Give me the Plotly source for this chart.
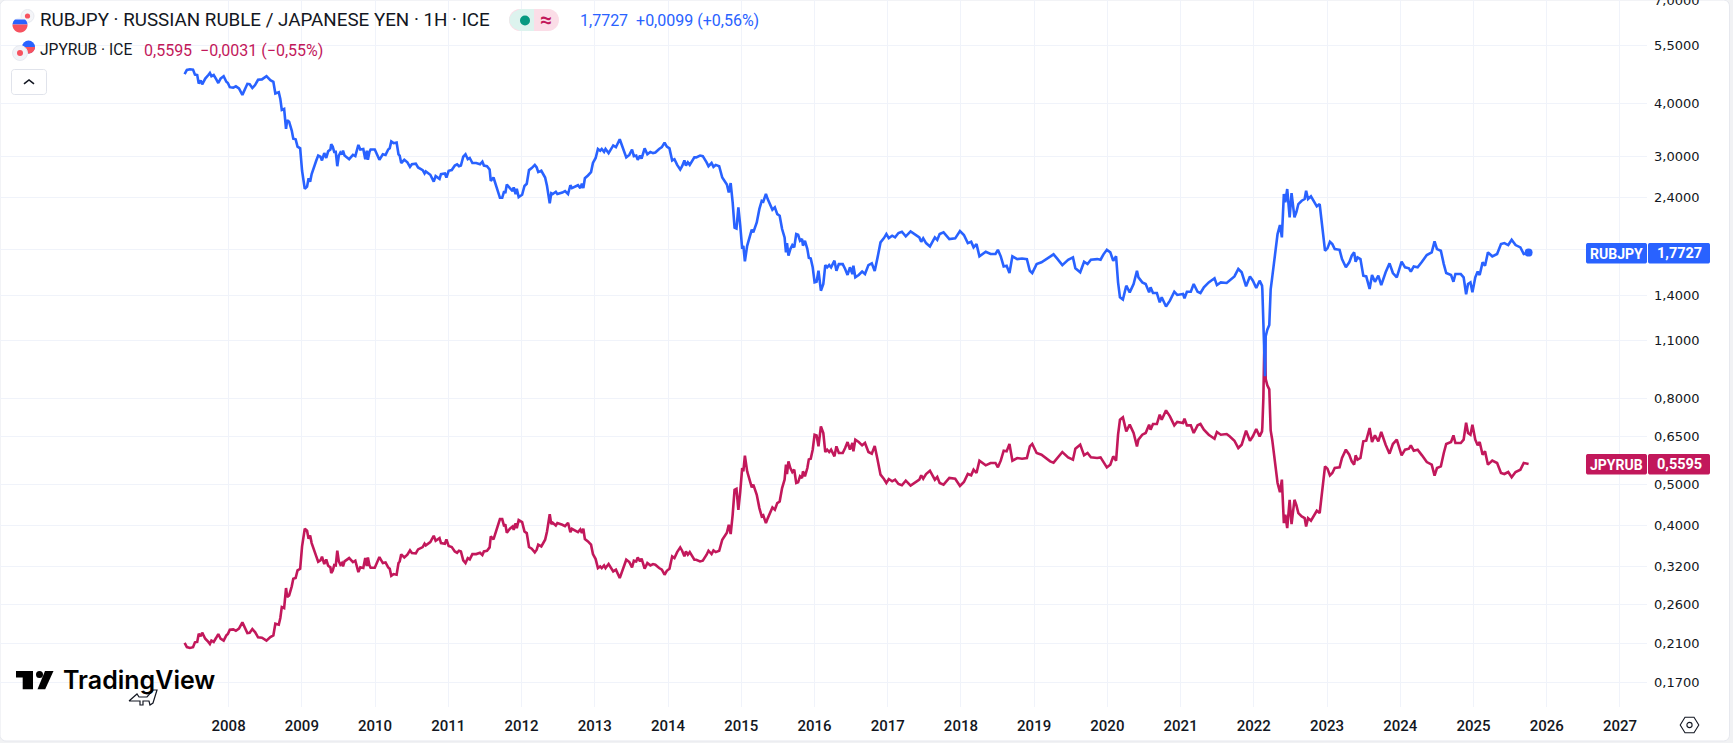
import math
import plotly.graph_objects as go

years = [
2007.399,2007.430,2007.472,2007.514,2007.540,2007.571,2007.592,2007.618,2007.639,2007.681,
2007.723,2007.744,2007.765,2007.796,2007.828,2007.859,2007.890,2007.932,2007.969,2007.990,
2008.016,2008.063,2008.099,2008.141,2008.188,2008.225,2008.256,2008.287,2008.324,2008.361,
2008.402,2008.455,2008.517,2008.570,2008.611,2008.638,2008.685,2008.706,2008.726,2008.758,
2008.784,2008.800,2008.826,2008.862,2008.883,2008.915,2008.941,2008.977,2009.003,2009.040,
2009.071,2009.092,2009.113,2009.134,2009.165,2009.197,2009.223,2009.254,2009.275,2009.306,
2009.333,2009.359,2009.390,2009.401,2009.421,2009.442,2009.463,2009.484,2009.505,2009.526,
2009.547,2009.562,2009.583,2009.646,2009.698,2009.730,2009.772,2009.798,2009.839,2009.866,
2009.887,2009.902,2009.923,2009.939,2009.996,2010.059,2010.106,2010.143,2010.179,2010.200,
2010.221,2010.252,2010.294,2010.320,2010.336,2010.357,2010.399,2010.441,2010.477,2010.503,
2010.556,2010.587,2010.650,2010.676,2010.692,2010.754,2010.801,2010.827,2010.880,2010.900,
2010.953,2010.974,2011.005,2011.047,2011.089,2011.120,2011.146,2011.172,2011.204,2011.235,
2011.266,2011.293,2011.329,2011.381,2011.433,2011.465,2011.486,2011.528,2011.564,2011.580,
2011.617,2011.653,2011.705,2011.736,2011.763,2011.778,2011.799,2011.841,2011.878,2011.893,
2011.919,2011.935,2011.961,2012.008,2012.040,2012.071,2012.102,2012.139,2012.181,2012.207,
2012.228,2012.270,2012.322,2012.348,2012.385,2012.406,2012.426,2012.468,2012.489,2012.557,
2012.594,2012.635,2012.667,2012.688,2012.729,2012.771,2012.803,2012.824,2012.844,2012.865,
2012.907,2012.949,2012.975,2013.012,2013.043,2013.074,2013.095,2013.127,2013.147,2013.189,
2013.252,2013.289,2013.341,2013.388,2013.430,2013.472,2013.509,2013.534,2013.566,2013.587,
2013.618,2013.639,2013.681,2013.718,2013.759,2013.796,2013.827,2013.879,2013.916,2013.953,
2013.984,2014.020,2014.057,2014.088,2014.125,2014.167,2014.193,2014.224,2014.245,2014.271,
2014.297,2014.360,2014.386,2014.438,2014.475,2014.527,2014.553,2014.595,2014.621,2014.652,
2014.699,2014.741,2014.778,2014.804,2014.830,2014.856,2014.883,2014.909,2014.935,2014.961,
2014.987,2015.013,2015.029,2015.050,2015.081,2015.118,2015.144,2015.165,2015.212,2015.248,
2015.280,2015.301,2015.337,2015.363,
2015.393,2015.426,2015.459,2015.492,2015.525,2015.558,2015.592,2015.611,2015.625,2015.645,
2015.671,2015.698,2015.724,2015.751,2015.777,2015.803,2015.830,2015.843,2015.870,2015.903,
2015.923,2015.949,2015.976,2016.002,2016.029,2016.055,2016.088,2016.121,2016.148,2016.174,
2016.201,2016.227,2016.273,2016.300,2016.333,2016.386,2016.419,2016.452,2016.485,2016.518,
2016.532,2016.558,2016.604,2016.651,2016.690,2016.737,2016.783,2016.823,2016.862,2016.902,
2016.949,2016.982,2017.015,2017.061,2017.101,2017.147,2017.194,2017.247,2017.313,2017.379,
2017.432,2017.458,2017.485,2017.524,2017.577,2017.644,2017.677,2017.710,2017.763,2017.842,
2017.922,2017.987,2018.041,2018.094,2018.140,2018.173,2018.213,2018.253,2018.339,2018.405,
2018.472,2018.505,2018.544,2018.584,2018.624,2018.663,2018.703,2018.769,2018.835,2018.901,
2018.941,2018.974,2019.034,2019.100,2019.166,2019.219,2019.265,2019.312,2019.385,2019.464,
2019.530,2019.563,2019.629,2019.682,2019.729,2019.775,2019.861,2019.907,2019.947,2019.993,
2020.040,2020.080,2020.119,2020.146,2020.172,2020.212,2020.258,2020.305,2020.358,2020.404,
2020.424,2020.477,2020.523,2020.570,2020.590,2020.623,2020.676,2020.715,2020.742,2020.801,
2020.854,2020.914,2020.954,2021.033,2021.053,2021.086,2021.139,2021.179,2021.232,2021.271,
2021.318,2021.384,2021.463,2021.496,2021.549,2021.629,2021.669,2021.735,2021.788,2021.834,
2021.894,2021.947,2021.987,2022.033,2022.079,2022.112,
2022.116,2022.130,2022.143,2022.153,2022.162,2022.184,2022.211,2022.230,
2022.251,2022.277,2022.297,2022.324,2022.357,2022.383,2022.410,2022.430,2022.456,2022.489,
2022.515,2022.555,2022.582,2022.608,2022.654,2022.694,2022.714,2022.740,2022.780,2022.826,
2022.860,2022.899,2022.919,2022.939,2022.972,2023.005,2023.039,2023.072,2023.105,2023.171,
2023.204,2023.257,2023.303,2023.337,2023.370,2023.390,2023.416,2023.456,2023.495,2023.535,
2023.581,2023.614,2023.654,2023.700,2023.740,2023.800,2023.853,2023.899,2023.952,2024.018,
2024.065,2024.118,2024.144,2024.184,2024.237,2024.296,2024.362,2024.429,2024.468,2024.501,
2024.554,2024.594,2024.627,2024.693,2024.726,2024.753,2024.826,2024.865,2024.899,2024.925,
2024.958,2024.985,2025.024,2025.057,2025.084,2025.124,2025.157,2025.197,2025.256,2025.322,
2025.375,2025.421,2025.474,2025.521,2025.574,2025.640,2025.686,2025.752,
]

rubjpy = [
4.69,4.80,4.82,4.81,4.68,4.67,4.46,4.53,4.44,4.58,
4.67,4.72,4.64,4.67,4.57,4.47,4.58,4.64,4.50,4.47,
4.37,4.36,4.39,4.34,4.19,4.31,4.45,4.44,4.35,4.42,
4.55,4.56,4.64,4.54,4.50,4.22,4.25,4.10,3.86,3.88,
3.48,3.65,3.62,3.45,3.30,3.29,3.16,3.13,2.77,2.51,
2.54,2.66,2.61,2.72,2.84,2.93,3.01,2.99,2.93,3.05,
2.97,3.08,3.11,3.20,3.16,3.07,3.07,2.84,3.01,3.06,
3.03,3.09,3.01,2.95,3.02,3.00,3.19,3.11,3.12,2.95,
3.09,2.94,3.07,3.11,3.11,2.94,3.03,3.02,3.11,3.13,
3.25,3.22,3.23,3.03,3.01,2.89,2.94,2.90,2.83,2.87,
2.88,2.82,2.78,2.73,2.76,2.71,2.61,2.69,2.65,2.72,
2.73,2.67,2.77,2.78,2.85,2.87,2.84,2.85,2.99,3.03,
2.95,2.97,2.89,2.89,2.87,2.91,2.85,2.84,2.79,2.62,
2.67,2.55,2.39,2.39,2.48,2.45,2.57,2.52,2.48,2.53,
2.44,2.51,2.40,2.43,2.55,2.58,2.78,2.81,2.86,2.82,
2.75,2.77,2.67,2.55,2.32,2.45,2.44,2.47,2.44,2.46,
2.48,2.44,2.56,2.52,2.54,2.56,2.52,2.58,2.52,2.66,
2.70,2.75,2.89,2.97,3.12,3.09,3.12,3.07,3.12,3.05,
3.18,3.15,3.29,3.12,2.98,3.02,3.11,3.00,3.01,2.94,
3.01,2.96,3.13,3.03,3.07,3.05,3.06,3.12,3.15,3.23,
3.16,3.13,2.93,2.95,2.86,2.79,2.84,2.93,2.85,2.90,
2.86,2.98,2.98,3.01,3.00,2.90,2.84,2.89,2.83,2.86,
2.84,2.67,2.60,2.57,2.46,2.59,2.33,2.03,2.02,2.27,
2.05,1.81,1.84,1.69,1.84,1.94,2.01,1.98,2.09,2.25,
2.35,2.34,2.44,2.37,
2.310,2.239,2.268,2.187,2.168,2.016,1.926,1.775,1.867,1.743,
1.807,1.847,1.824,1.961,1.954,1.891,1.909,1.841,1.891,1.807,
1.724,1.717,1.636,1.507,1.512,1.606,1.440,1.494,1.656,1.636,
1.656,1.636,1.696,1.606,1.665,1.665,1.621,1.569,1.636,1.577,
1.650,1.549,1.569,1.598,1.577,1.656,1.672,1.604,1.727,1.874,
1.919,1.961,1.919,1.944,1.926,1.972,1.986,1.937,1.990,1.951,
1.926,1.881,1.916,1.867,1.834,1.926,1.899,1.961,1.979,1.909,
1.916,1.994,1.951,1.867,1.881,1.824,1.857,1.737,1.781,1.759,
1.759,1.800,1.737,1.644,1.650,1.586,1.737,1.711,1.717,1.711,
1.606,1.586,1.665,1.681,1.711,1.743,1.756,1.717,1.656,1.705,
1.727,1.627,1.592,1.687,1.665,1.705,1.711,1.705,1.756,1.800,
1.775,1.696,1.737,1.507,1.389,1.372,1.480,1.427,1.494,1.606,
1.549,1.507,1.494,1.427,1.467,1.422,1.422,1.352,1.389,1.321,
1.364,1.432,1.407,1.415,1.382,1.432,1.432,1.494,1.432,1.422,
1.467,1.507,1.541,1.485,1.507,1.502,1.521,1.557,1.621,1.592,
1.475,1.557,1.521,1.462,1.521,1.480,
1.450,1.230,0.954,0.903,1.123,1.164,1.195,1.450,
1.549,1.681,1.807,1.961,2.060,1.926,2.440,2.331,2.507,2.148,
2.453,2.148,2.215,2.310,2.352,2.374,2.485,2.374,2.409,2.331,
2.281,2.310,2.168,1.979,1.791,1.814,1.881,1.857,1.807,1.800,
1.711,1.636,1.681,1.743,1.775,1.687,1.727,1.711,1.563,1.557,
1.454,1.569,1.512,1.563,1.485,1.592,1.672,1.586,1.549,1.687,
1.636,1.627,1.598,1.644,1.636,1.687,1.749,1.775,1.884,1.807,
1.791,1.665,1.586,1.569,1.512,1.577,1.577,1.549,1.412,1.494,
1.507,1.427,1.549,1.598,1.569,1.681,1.650,1.775,1.737,1.759,
1.857,1.867,1.847,1.902,1.847,1.824,1.759,1.7727,
]

jpyrub = [
.2110,.2062,.2052,.2060,.2116,.2120,.2218,.2186,.2230,.2158,
.2120,.2097,.2135,.2120,.2166,.2214,.2158,.2135,.2198,.2214,
.2267,.2271,.2254,.2280,.2359,.2296,.2226,.2230,.2275,.2238,
.2174,.2170,.2135,.2178,.2198,.2342,.2329,.2416,.2565,.2551,
.2845,.2709,.2733,.2871,.2993,.3004,.3132,.3161,.3570,.3931,
.3888,.3722,.3791,.3636,.3487,.3381,.3284,.3308,.3375,.3243,
.3326,.3214,.3185,.3087,.3126,.3225,.3219,.3487,.3290,.3231,
.3260,.3202,.3290,.3350,.3278,.3302,.3104,.3185,.3173,.3350,
.3208,.3362,.3219,.3179,.3179,.3368,.3260,.3272,.3185,.3161,
.3042,.3070,.3059,.3260,.3290,.3418,.3362,.3412,.3493,.3443,
.3437,.3512,.3558,.3623,.3590,.3656,.3784,.3682,.3736,.3636,
.3623,.3709,.3577,.3558,.3474,.3449,.3487,.3474,.3308,.3260,
.3350,.3326,.3424,.3424,.3449,.3406,.3474,.3487,.3551,.3770,
.3709,.3874,.4143,.4143,.3981,.4032,.3846,.3931,.3981,.3909,
.4047,.3945,.4121,.4076,.3874,.3839,.3558,.3525,.3455,.3506,
.3603,.3570,.3702,.3874,.4258,.4032,.4062,.4003,.4054,.4018,
.3988,.4062,.3860,.3931,.3888,.3860,.3917,.3839,.3931,.3716,
.3669,.3603,.3424,.3332,.3173,.3202,.3173,.3219,.3173,.3243,
.3115,.3144,.3004,.3173,.3320,.3278,.3185,.3302,.3290,.3362,
.3290,.3338,.3161,.3260,.3219,.3243,.3231,.3173,.3144,.3059,
.3126,.3161,.3381,.3350,.3461,.3551,.3487,.3381,.3474,.3412,
.3461,.3320,.3320,.3290,.3302,.3412,.3487,.3424,.3493,.3461,
.3487,.3702,.3805,.3846,.4018,.3819,.4243,.4862,.4888,.4360,
.4818,.5475,.5377,.5856,.5377,.5092,.4925,.5000,.4731,.4400,
.4204,.4228,.4054,.4166,
.4282,.4416,.4360,.4521,.4562,.4906,.5138,.5576,.5299,.5678,
.5475,.5357,.5426,.5046,.5064,.5232,.5185,.5377,.5232,.5475,
.5740,.5761,.6051,.6566,.6542,.6161,.6872,.6626,.5974,.6051,
.5974,.6051,.5835,.6161,.5942,.5942,.6106,.6309,.6051,.6275,
.5996,.6390,.6309,.6195,.6275,.5974,.5920,.6173,.5730,.5280,
.5157,.5046,.5157,.5092,.5138,.5018,.4982,.5110,.4973,.5073,
.5138,.5261,.5166,.5299,.5396,.5138,.5213,.5046,.5000,.5185,
.5166,.4964,.5073,.5299,.5261,.5426,.5328,.5699,.5556,.5627,
.5627,.5495,.5699,.6018,.5996,.6241,.5699,.5782,.5761,.5782,
.6161,.6241,.5942,.5888,.5782,.5678,.5637,.5761,.5974,.5803,
.5730,.6084,.6218,.5867,.5942,.5803,.5782,.5803,.5637,.5495,
.5576,.5835,.5699,.6566,.7126,.7217,.6687,.6935,.6626,.6161,
.6390,.6566,.6626,.6935,.6748,.6960,.6960,.7323,.7126,.7499,
.7257,.6910,.7037,.6998,.7165,.6910,.6910,.6626,.6910,.6960,
.6748,.6566,.6424,.6663,.6566,.6590,.6507,.6355,.6106,.6218,
.6711,.6355,.6507,.6773,.6507,.6687,
.6840,.8000,1.067,1.117,.8890,.8600,.8410,.6720,
.6390,.5888,.5475,.5046,.4800,.5138,.4054,.4243,.3945,.4604,
.4032,.4604,.4464,.4282,.4204,.4166,.3981,.4166,.4106,.4243,
.4337,.4282,.4562,.5000,.5525,.5456,.5261,.5328,.5475,.5495,
.5782,.6051,.5888,.5678,.5576,.5867,.5730,.5782,.6332,.6355,
.6810,.6309,.6542,.6332,.6663,.6218,.5920,.6241,.6390,.5867,
.6051,.6084,.6195,.6018,.6051,.5867,.5657,.5576,.5251,.5475,
.5525,.5942,.6241,.6309,.6542,.6275,.6275,.6390,.7011,.6626,
.6566,.6935,.6390,.6195,.6309,.5888,.5996,.5576,.5699,.5627,
.5328,.5299,.5357,.5204,.5357,.5426,.5627,.5595,
]
assert len(years) == len(rubjpy) == len(jpyrub), (len(years), len(rubjpy), len(jpyrub))

year_ticks = list(range(2008, 2028))
price_ticks = [7.0, 5.5, 4.0, 3.0, 2.4, 1.8, 1.4, 1.1, 0.8, 0.65, 0.5, 0.4, 0.32, 0.26, 0.21, 0.17]
price_labels = ["7,0000", "5,5000", "4,0000", "3,0000", "2,4000", "", "1,4000", "1,1000",
                "0,8000", "0,6500", "0,5000", "0,4000", "0,3200", "0,2600", "0,2100", "0,1700"]

TITLE = "RUBJPY · RUSSIAN RUBLE / JAPANESE YEN · 1H · ICE"
QUOTE = "1,7727  +0,0099 (+0,56%)"
SUB_NAME = "JPYRUB · ICE"
SUB_QUOTE = "0,5595  −0,0031 (−0,55%)"

BLUE = "#2962FF"
PINK = "#C2185B"
INK = "#131722"
GRID = "#F0F3FA"
W, H, PW, PH = 1733, 743, 1647, 707
FONT = "Roboto"


def fx(x):
    return x / PW


def fy(y):
    return 1 - y / PH


def poly(points, close=True):
    s = "M" + " L".join(f"{fx(x):.5f},{fy(y):.5f}" for x, y in points)
    return s + (" Z" if close else "")


def rrect(x0, y0, x1, y1, r):
    pts = []
    corners = [(x1 - r, y0 + r, -90), (x1 - r, y1 - r, 0), (x0 + r, y1 - r, 90), (x0 + r, y0 + r, 180)]
    for cx, cy, a in corners:
        for k in range(7):
            t = math.radians(a + k * 15)
            pts.append((cx + r * math.cos(t), cy + r * math.sin(t)))
    return poly(pts)


def band(cx, cy, r, y0, y1):
    pts = []
    for k in range(48):
        t = 2 * math.pi * k / 48
        pts.append((cx + r * math.cos(t), min(max(cy + r * math.sin(t), y0), y1)))
    return poly(pts)


shapes = []
ann = []


def path(d, fill="rgba(0,0,0,0)", line=None, lw=1, layer="above"):
    shapes.append(dict(type="path", xref="paper", yref="paper", path=d, fillcolor=fill, layer=layer,
                       line=dict(color=line or "rgba(0,0,0,0)", width=lw if line else 0)))


def circle(cx, cy, r, fill, line=None, lw=1):
    shapes.append(dict(type="circle", xref="paper", yref="paper", x0=fx(cx - r), x1=fx(cx + r),
                       y0=fy(cy + r), y1=fy(cy - r), fillcolor=fill, layer="above",
                       line=dict(color=line or "rgba(0,0,0,0)", width=lw if line else 0)))


def text(x, y, s, size, color=INK, anchor="left", family=FONT, weight=None):
    font = dict(family=family, size=size, color=color)
    if weight:
        font["weight"] = weight
    ann.append(dict(xref="paper", yref="paper", x=fx(x), y=fy(y), text=s, showarrow=False,
                    xanchor=anchor, yanchor="middle", font=font, borderpad=0, borderwidth=0))


# page frame
path(rrect(0, 0, 1729.5, 741, 6), fill="white", line="#E6E8EE", layer="below")

# header legend
circle(27.5, 16, 6.5, "#F4F5F8", "#E8EAF0")
circle(27.5, 16, 2.6, "#F7525F")
circle(20, 25, 7.5, "#F0F3FA")
path(band(20, 25, 7.5, 19.5, 24.5), fill=BLUE)
path(band(20, 25, 7.5, 24.5, 33), fill="#F7525F")
text(40, 20.5, TITLE, 18.8)
path(rrect(509, 9, 559, 31, 11), fill="#FBDDE7")
path(poly([(520, 9), (534, 9), (534, 31), (520, 31), (513.5, 28), (509.5, 23), (509.5, 17), (513.5, 12)]), fill="#DDF3EE")
circle(525, 20.5, 5, "#089981")
text(546, 20, "≈", 21, PINK, "center", weight=700)
text(580, 20.5, QUOTE, 16, BLUE)

circle(28.5, 47, 6.5, BLUE)
path(band(28.5, 47, 6.5, 47, 55), fill="#F7525F")
circle(20, 53, 7.5, "#F1F3F8", "#E8EAF0")
circle(20, 53, 3, "#F7525F")
text(40, 50.5, SUB_NAME, 15.6)
text(144, 50.5, SUB_QUOTE, 16, PINK)

# collapse button
path(rrect(11.5, 69.5, 46.5, 94.5, 3), fill="white", line="#E0E3EB")
path(poly([(24, 84), (29, 80), (34, 84)], close=False), line=INK, lw=1.6)

# price labels on the axis
for y0, color, name, value in [(243, BLUE, "RUBJPY", "1,7727"), (454, PINK, "JPYRUB", "0,5595")]:
    path(rrect(1586, y0, 1647, y0 + 20.5, 2), fill=color)
    path(rrect(1648, y0, 1710, y0 + 20.5, 2), fill=color)
    text(1616.5, y0 + 10.5, name, 14, "white", "center", weight=700)
    text(1679, y0 + 10.5, value, 14.5, "white", "center", weight=700)

# settings glyph
path(poly([(1680.2, 725), (1685, 717.3), (1694, 717.3), (1698.8, 725), (1694, 732.7), (1685, 732.7)]), line=INK, lw=1.1)
circle(1689.5, 725, 2.6, "white", INK, 1.1)

# logo
path(poly([(16, 671), (33, 671), (33, 689.3), (22.7, 689.3), (22.7, 677.5), (16, 677.5)]), fill="#000000")
circle(39.5, 674.5, 3.5, "#000000")
path(poly([(37.5, 689.3), (45, 671), (53.5, 671), (45.2, 689.3)]), fill="#000000")
text(63, 680, "TradingView", 25, "#000000", family="Inter", weight=600)
path(poly([(129, 701), (137, 694), (139, 697), (147, 697), (153, 690), (157, 690), (153, 703), (150, 705), (149, 701),
           (143, 701), (143, 705), (140, 705), (140, 701), (129, 701)], close=False), line=INK, lw=1.2)

fig = go.Figure()
fig.add_trace(go.Scatter(x=years, y=jpyrub, mode="lines", line=dict(color=PINK, width=2.6), hoverinfo="skip"))
fig.add_trace(go.Scatter(x=years, y=rubjpy, mode="lines", line=dict(color=BLUE, width=2.6), hoverinfo="skip"))
fig.add_trace(go.Scatter(x=years[-1:], y=rubjpy[-1:], mode="markers", marker=dict(color=BLUE, size=8), hoverinfo="skip"))

fig.update_layout(
    width=W, height=H, margin=dict(l=0, r=W - PW, t=0, b=H - PH), autosize=False,
    paper_bgcolor="#F1F2F4", plot_bgcolor="rgba(0,0,0,0)", showlegend=False, hovermode=False,
    shapes=shapes, annotations=ann, font=dict(family=FONT, color=INK),
    xaxis=dict(range=[2004.878, 2027.369], tickmode="array", tickvals=year_ticks, automargin=False,
               ticktext=[str(v) for v in year_ticks], showgrid=True, gridcolor=GRID, gridwidth=1,
               zeroline=False, showline=False, ticks="", ticklabelstandoff=8,
               tickfont=dict(family=FONT, size=15, color=INK, weight=500), tickangle=0),
    yaxis=dict(type="log", side="right", range=[math.log10(0.1487), math.log10(7.03)], tickmode="array",
               tickvals=price_ticks, ticktext=price_labels, showgrid=True, gridcolor=GRID, gridwidth=1, automargin=False,
               zeroline=False, showline=False, ticks="", ticklabelstandoff=6, ticklabeloverflow="allow",
               tickfont=dict(family="DejaVu Sans", size=13, color=INK)),
)

fig.write_html("out.html", config=dict(displayModeBar=False),
               post_script="document.documentElement.style.overflow='hidden';document.body.style.margin='0';document.body.style.overflow='hidden';")
